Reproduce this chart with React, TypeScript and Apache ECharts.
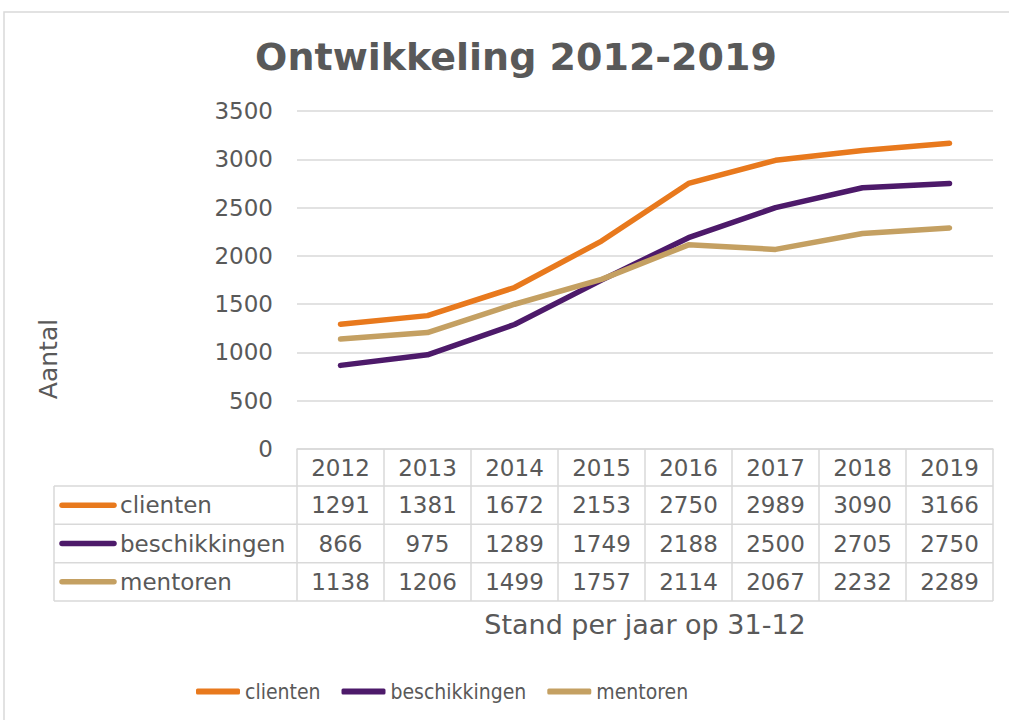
import React, { useEffect, useRef } from "react";
import * as echarts from "echarts";

const years = ["2012", "2013", "2014", "2015", "2016", "2017", "2018", "2019"];
const clienten = [1291, 1381, 1672, 2153, 2750, 2989, 3090, 3166];
const beschikkingen = [866, 975, 1289, 1749, 2188, 2500, 2705, 2750];
const mentoren = [1138, 1206, 1499, 1757, 2114, 2067, 2232, 2289];
const seriesNames = ["clienten", "beschikkingen", "mentoren"];
const seriesData = [clienten, beschikkingen, mentoren];
const seriesColors = ["#E8791D", "#4D1A6A", "#C4A062"];
const yMax = 3500;
const yInterval = 500;

const TEXT = "#595959";
const LINE = "#D9D9D9";
const FONT = "'DejaVu Sans', Verdana, sans-serif";
const NARROW = "'DejaVu Sans Condensed', 'DejaVu Sans', sans-serif";

const GRID_LEFT = 297;
const GRID_TOP = 111;
const GRID_W = 696;
const GRID_H = 338;
const TABLE_LEFT = 54;
const HEADER_H = 37;
const TABLE_BOTTOM = 601;

export default function App() {
  const ref = useRef<HTMLDivElement>(null);
  useEffect(() => {
    if (!ref.current) return;
    const chart = echarts.init(ref.current, null, { renderer: "svg" });
    const gridBottomY = GRID_TOP + GRID_H;
    chart.setOption({
      animation: false,
      backgroundColor: "#ffffff",
      textStyle: { fontFamily: FONT },
      grid: { left: GRID_LEFT, top: GRID_TOP, width: GRID_W, height: GRID_H, containLabel: false },
      legend: {
        left: 191,
        top: 676,
        icon: "roundRect",
        itemWidth: 44,
        itemHeight: 6,
        itemGap: 21,
        textStyle: { fontSize: 21, color: TEXT, fontFamily: NARROW },
        data: seriesNames,
      },
      xAxis: {
        type: "category",
        data: years,
        boundaryGap: true,
        axisLine: { show: true, lineStyle: { color: LINE, width: 1.5 } },
        axisTick: {
          show: true,
          interval: 0,
          length: TABLE_BOTTOM - gridBottomY,
          lineStyle: { color: LINE, width: 1.5 },
        },
        axisLabel: {
          fontSize: 23,
          color: TEXT,
          fontFamily: FONT,
          margin: 5,
          lineHeight: 28,
          interval: 0,
        },
      },
      yAxis: {
        type: "value",
        min: 0,
        max: yMax,
        interval: yInterval,
        axisLine: { show: false },
        axisTick: { show: false },
        axisLabel: {
          fontSize: 23,
          color: TEXT,
          fontFamily: FONT,
          margin: 24,
          formatter: (v: number) => String(v),
        },
        splitLine: { lineStyle: { color: LINE, width: 1.5 } },
      },
      series: seriesNames.map((name, i) => ({
        name,
        type: "line",
        data: seriesData[i],
        symbol: "none",
        color: seriesColors[i],
        lineStyle: { width: 5.5, color: seriesColors[i], cap: "round", join: "round" },
        itemStyle: { color: seriesColors[i] },
      })),
    });

    const xs = years.map((_, i) => chart.convertToPixel({ xAxisIndex: 0 }, i) as number);
    const rowTop = gridBottomY + HEADER_H;
    const rowH = (TABLE_BOTTOM - rowTop) / seriesNames.length;
    const right = GRID_LEFT + GRID_W;
    const els: any[] = [];
    els.push({
      type: "rect",
      shape: { x: 4, y: 12, width: 1200, height: 900 },
      style: { fill: "none", stroke: LINE, lineWidth: 1.5 },
      silent: true,
    });
    els.push({
      type: "text",
      x: 516,
      y: 57,
      style: {
        text: "Ontwikkeling 2012-2019",
        fontSize: 38,
        fontWeight: "bold",
        fontFamily: FONT,
        fill: TEXT,
        align: "center",
        verticalAlign: "middle",
      },
    });
    els.push({
      type: "text",
      x: 48,
      y: 359,
      rotation: Math.PI / 2,
      style: {
        text: "Aantal",
        fontSize: 25,
        fontFamily: FONT,
        fill: TEXT,
        align: "center",
        verticalAlign: "middle",
      },
    });
    els.push({
      type: "text",
      x: GRID_LEFT + GRID_W / 2,
      y: 624,
      style: {
        text: "Stand per jaar op 31-12",
        fontSize: 27,
        fontFamily: FONT,
        fill: TEXT,
        align: "center",
        verticalAlign: "middle",
      },
    });
    for (let r = 0; r <= seriesNames.length; r++) {
      const y = rowTop + r * rowH;
      els.push({
        type: "line",
        shape: { x1: TABLE_LEFT, y1: y, x2: right, y2: y },
        style: { stroke: LINE, lineWidth: 1.5 },
      });
    }
    els.push({
      type: "line",
      shape: { x1: TABLE_LEFT, y1: rowTop, x2: TABLE_LEFT, y2: TABLE_BOTTOM },
      style: { stroke: LINE, lineWidth: 1.5 },
    });
    seriesNames.forEach((name, r) => {
      const cy = rowTop + (r + 0.5) * rowH;
      els.push({
        type: "line",
        shape: { x1: 62, y1: cy, x2: 114, y2: cy },
        style: { stroke: seriesColors[r], lineWidth: 5.5, lineCap: "round" },
      });
      els.push({
        type: "text",
        x: 120,
        y: cy,
        style: {
          text: name,
          fontSize: 23,
          fontFamily: FONT,
          fill: TEXT,
          align: "left",
          verticalAlign: "middle",
        },
      });
      seriesData[r].forEach((v, i) => {
        els.push({
          type: "text",
          x: xs[i],
          y: cy,
          style: {
            text: String(v),
            fontSize: 23,
            fontFamily: FONT,
            fill: TEXT,
            align: "center",
            verticalAlign: "middle",
          },
        });
      });
    });
    chart.setOption({ graphic: els });
    return () => chart.dispose();
  }, []);
  return (
    <div
      ref={ref}
      style={{ position: "absolute", left: 0, top: 0, width: 1009, height: 720 }}
    />
  );
}
